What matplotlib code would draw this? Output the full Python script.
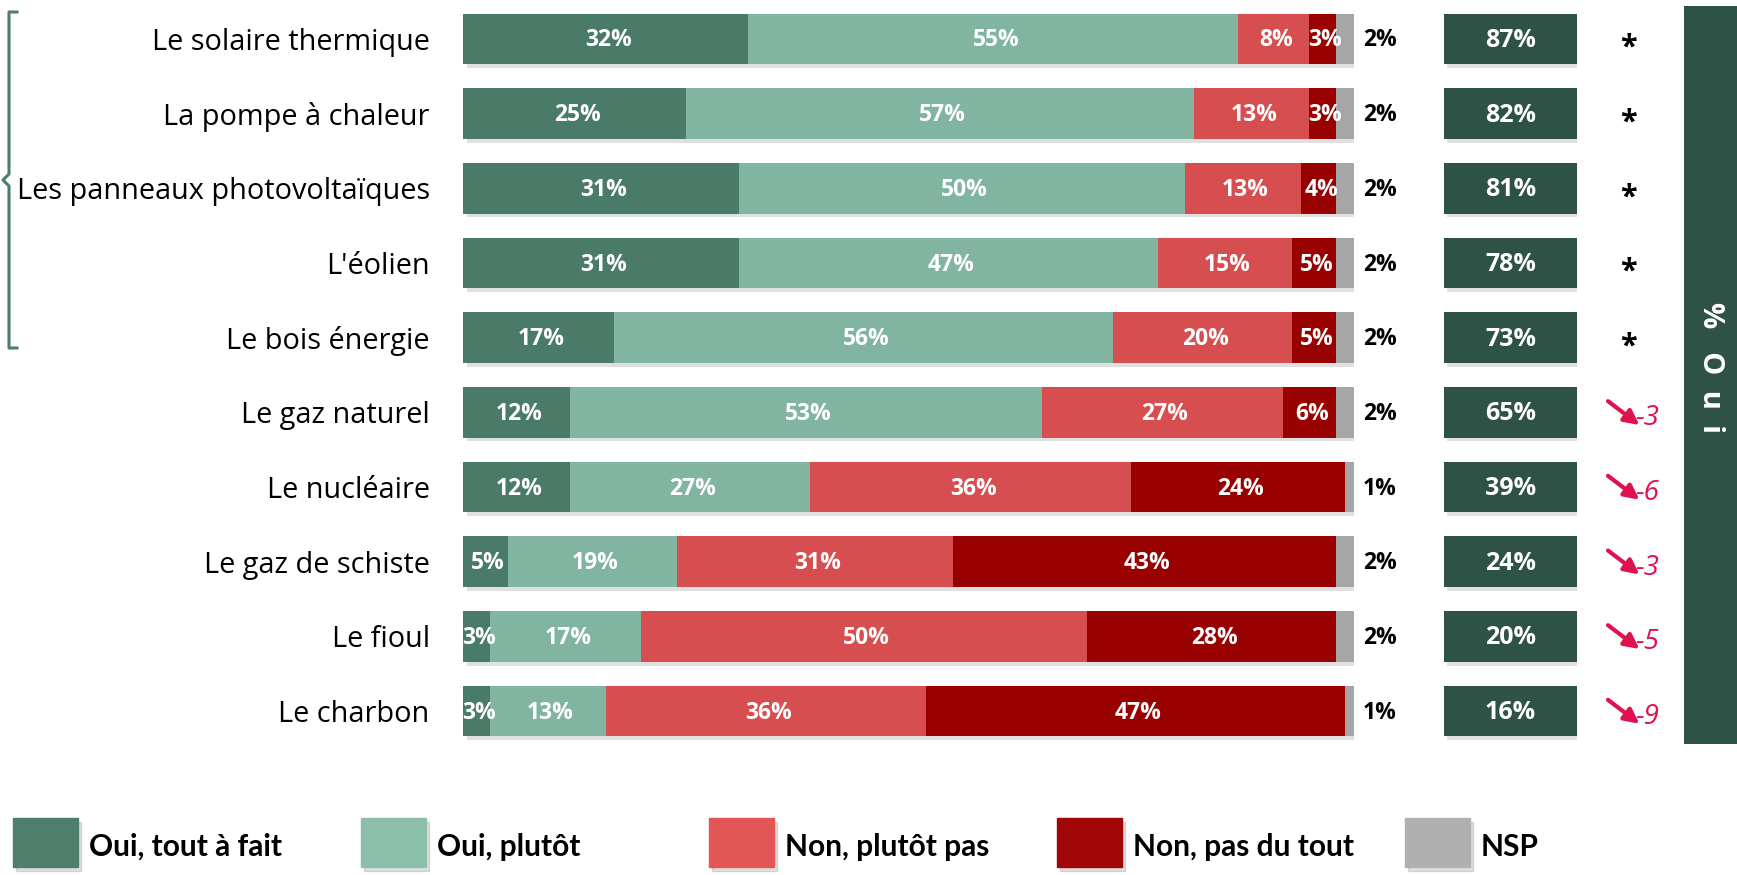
import matplotlib.pyplot as plt
import matplotlib.patches as patches
from matplotlib.lines import Line2D
import numpy as np

# values
categories = ["Le solaire thermique", "La pompe à chaleur", "Les panneaux photovoltaïques",
              "L'éolien", "Le bois énergie", "Le gaz naturel", "Le nucléaire",
              "Le gaz de schiste", "Le fioul", "Le charbon"]
oui_tout_a_fait = [32, 25, 31, 31, 17, 12, 12, 5, 3, 3]
oui_plutot = [55, 57, 50, 47, 56, 53, 27, 19, 17, 13]
non_plutot_pas = [8, 13, 13, 15, 20, 27, 36, 31, 50, 36]
non_pas_du_tout = [3, 3, 4, 5, 5, 6, 24, 43, 28, 47]
nsp = [2, 2, 2, 2, 2, 2, 1, 2, 2, 1]
total_oui = [87, 82, 81, 78, 73, 65, 39, 24, 20, 16]
evolution = [None, None, None, None, None, -3, -6, -3, -5, -9]
legend_labels = ["Oui, tout à fait", "Oui, plutôt", "Non, plutôt pas", "Non, pas du tout", "NSP"]

bar_colors = ['#4A7B69', '#82B5A1', '#D74E50', '#990000', '#A6A6A6']
legend_colors = ['#4E7F6C', '#8CBFAA', '#E35656', '#A00606', '#B0B0B0']
box_color = '#2F5246'
trend_color = '#E0114F'

plt.rcParams['font.family'] = ['Open Sans', 'DejaVu Sans']

W, H = 1737, 875
fig = plt.figure(figsize=(W / 100, H / 100), dpi=100)


def px_axes(x0, y_top, w, h):
    """Axes placed in reference pixel coordinates (origin top-left)."""
    return fig.add_axes([x0 / W, (H - y_top - h) / H, w / W, h / H])


y = np.arange(len(categories))
row_top, row_h = 1.65, 746.75
bar_h = 0.68

# main stacked bars
ax = px_axes(463, row_top, 891, row_h)
series = [oui_tout_a_fait, oui_plutot, non_plutot_pas, non_pas_du_tout, nsp]
totals = np.sum(series, axis=0)
ax.barh(y + 0.05, totals, left=0.4, height=bar_h, color='black', alpha=0.12, zorder=1)
left = np.zeros(len(categories))
for k, (vals, col) in enumerate(zip(series, bar_colors)):
    vals = np.array(vals, dtype=float)
    ax.barh(y, vals, left=left, height=bar_h, color=col, zorder=2)
    for i, v in enumerate(vals):
        if k < 4:
            ax.text(left[i] + v / 2 + 0.3, y[i] + 0.02, f"{int(v)}%", ha='center', va='center',
                    color='white', fontsize=16.5, fontweight='bold', zorder=3)
        else:
            ax.text(101.0, y[i] + 0.02, f"{int(v)}%", ha='left', va='center',
                    color='black', fontsize=16.5, fontweight='bold', clip_on=False)
    left += vals

ax.set_xlim(0, 100)
ax.set_ylim(len(categories) - 0.5, -0.5)
ax.set_yticks(y)
ax.set_yticklabels(categories, fontsize=20.8)
ax.tick_params(axis='y', length=0, pad=24)
ax.xaxis.set_visible(False)
for s in ax.spines.values():
    s.set_visible(False)

# % oui boxes
ax2 = px_axes(1444, row_top, 133, row_h)
ax2.barh(y + 0.05, 1, left=0.02, height=bar_h, color='black', alpha=0.12, zorder=1)
ax2.barh(y, 1, height=bar_h, color=box_color, zorder=2)
for i, v in enumerate(total_oui):
    ax2.text(0.5, y[i] + 0.02, f"{v}%", ha='center', va='center', color='white',
             fontsize=18, fontweight='bold', zorder=3)
ax2.set_xlim(0, 1)
ax2.set_ylim(len(categories) - 0.5, -0.5)
ax2.axis('off')

# evolution column
ax3 = px_axes(1590, row_top, 90, row_h)
for i, ev in enumerate(evolution):
    if ev is None:
        ax3.text(0.43, y[i] + 0.12, "*", ha='center', va='center', color='black',
                 fontsize=22, fontweight='bold')
    else:
        ax3.annotate('', xy=(0.55, y[i] + 0.17), xytext=(0.2, y[i] - 0.15),
                     arrowprops=dict(arrowstyle='-|>', color=trend_color, lw=3,
                                     mutation_scale=22, shrinkA=0, shrinkB=0))
        ax3.text(0.5, y[i] + 0.08, f"{ev}", ha='left', va='center', color=trend_color,
                 fontsize=20, fontstyle='italic')
ax3.set_xlim(0, 1)
ax3.set_ylim(len(categories) - 0.5, -0.5)
ax3.axis('off')

# vertical "% Oui" band
ax4 = px_axes(1684, 6, 53, 738)
ax4.set_facecolor(box_color)
ax4.set_xticks([])
ax4.set_yticks([])
for s in ax4.spines.values():
    s.set_visible(False)
ax4.text(0.5, 0.51, "%   O  u  i", rotation=-90, ha='center', va='center', color='white',
         fontsize=21, fontweight='bold', transform=ax4.transAxes)

# bracket grouping the renewables
bx = np.array([17, 9, 9, 3, 9, 9, 17])
by = np.array([12, 12, 174, 180, 186, 348, 348])
fig.add_artist(Line2D(bx / W, 1 - by / H, color='#4D7D6B', lw=2.2))

# legend
for i, (lab, col) in enumerate(zip(legend_labels, legend_colors)):
    x0 = 13 + i * 348
    fig.add_artist(patches.Rectangle(((x0 + 3) / W, (H - 871) / H), 65 / W, 49 / H,
                                     color='black', alpha=0.12, transform=fig.transFigure))
    fig.add_artist(patches.Rectangle((x0 / W, (H - 867) / H), 65 / W, 49 / H,
                                     color=col, transform=fig.transFigure))
    fig.text((x0 + 76) / W, 1 - 847 / H, lab, ha='left', va='center', fontsize=21.5,
             fontweight='bold', color='black', family=['Lato', 'DejaVu Sans'])

fig.savefig("out.png", dpi=100)
